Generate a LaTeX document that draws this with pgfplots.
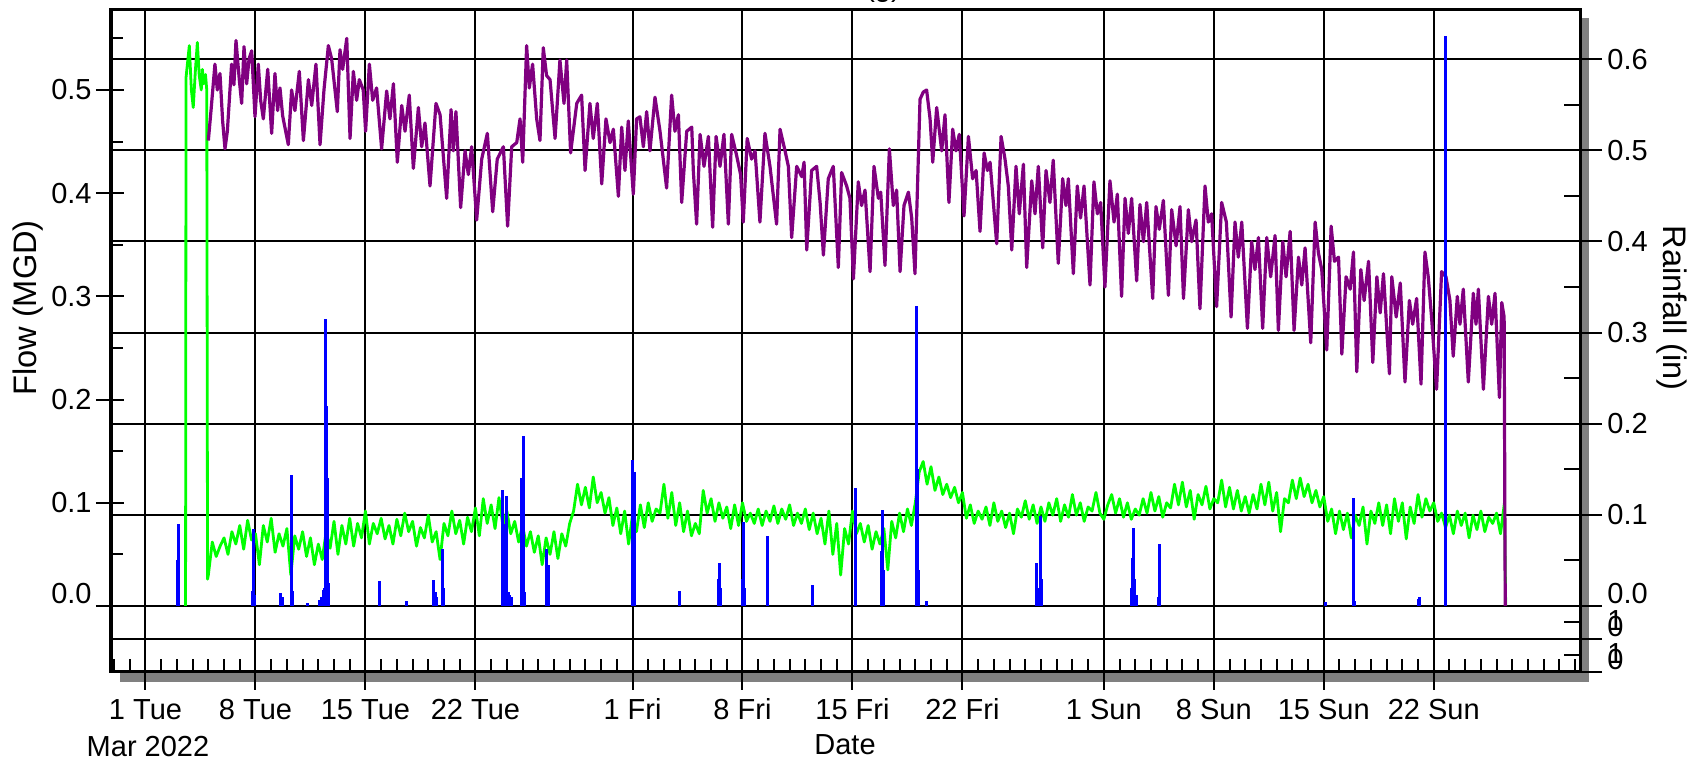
\documentclass[border=0pt]{standalone}
\usepackage{pgfplots}
\pgfplotsset{compat=1.18}
\usepackage{pgfplotstable}
\usepackage{fontspec}
\setmainfont{Liberation Sans}
\definecolor{fpurple}{RGB}{128,0,128}
\definecolor{fgreen}{RGB}{0,255,0}
\definecolor{fblue}{RGB}{0,0,255}
\definecolor{shadowgray}{RGB}{128,128,128}
\newcommand\ff{\fontsize{14.5}{17.4}\selectfont}
\newcommand\fl{\fontsize{16.3}{19.5}\selectfont}
\newcommand\onezero{\rlap{\raisebox{3pt}{1}}0}

\pgfplotstableread{
d v
4.00 0.451
4.17 0.480
4.42 0.525
4.57 0.500
4.74 0.516
4.91 0.470
5.06 0.443
5.21 0.460
5.48 0.525
5.63 0.505
5.76 0.548
5.97 0.510
6.12 0.487
6.27 0.542
6.44 0.506
6.59 0.530
6.76 0.538
6.97 0.474
7.18 0.525
7.33 0.490
7.50 0.472
7.78 0.520
8.03 0.458
8.24 0.516
8.41 0.480
8.56 0.502
8.73 0.475
9.09 0.447
9.30 0.500
9.51 0.480
9.79 0.518
10.05 0.451
10.37 0.510
10.58 0.485
10.85 0.525
11.11 0.447
11.36 0.500
11.64 0.543
11.85 0.530
12.21 0.479
12.38 0.539
12.55 0.520
12.81 0.550
13.02 0.453
13.23 0.518
13.44 0.490
13.61 0.510
13.86 0.500
14.01 0.460
14.25 0.525
14.46 0.490
14.71 0.502
15.03 0.443
15.35 0.499
15.56 0.472
15.78 0.506
16.03 0.430
16.31 0.485
16.52 0.460
16.79 0.495
17.05 0.424
17.37 0.483
17.58 0.445
17.79 0.468
18.11 0.407
18.49 0.487
18.75 0.476
19.17 0.395
19.45 0.481
19.59 0.441
19.76 0.479
20.06 0.386
20.34 0.441
20.55 0.418
20.76 0.445
21.08 0.374
21.40 0.433
21.76 0.458
22.10 0.382
22.39 0.433
22.78 0.445
23.05 0.368
23.31 0.445
23.63 0.449
23.84 0.472
24.01 0.430
24.26 0.543
24.43 0.502
24.64 0.525
24.90 0.472
25.11 0.451
25.32 0.541
25.53 0.514
25.75 0.510
26.07 0.453
26.38 0.529
26.64 0.487
26.81 0.529
27.06 0.439
27.45 0.487
27.76 0.495
27.98 0.422
28.29 0.487
28.50 0.453
28.76 0.487
29.04 0.409
29.31 0.472
29.57 0.449
29.78 0.462
30.10 0.397
30.31 0.464
30.52 0.422
30.73 0.470
31.05 0.399
31.26 0.472
31.47 0.474
31.69 0.445
31.90 0.479
32.11 0.441
32.43 0.493
32.75 0.460
33.17 0.405
33.49 0.495
33.70 0.460
33.92 0.476
34.13 0.391
34.45 0.460
34.77 0.464
34.87 0.422
35.08 0.370
35.30 0.457
35.55 0.426
35.83 0.455
36.10 0.367
36.32 0.455
36.57 0.426
36.82 0.457
37.10 0.370
37.31 0.457
37.62 0.437
37.88 0.418
38.05 0.372
38.30 0.453
38.58 0.433
38.80 0.441
39.11 0.372
39.43 0.458
39.75 0.426
40.17 0.370
40.39 0.462
40.71 0.441
40.92 0.426
41.13 0.357
41.45 0.426
41.77 0.416
41.92 0.430
42.09 0.345
42.40 0.422
42.72 0.426
42.94 0.391
43.15 0.340
43.46 0.414
43.78 0.426
44.10 0.328
44.31 0.420
44.63 0.407
44.84 0.395
45.06 0.317
45.37 0.411
45.58 0.388
45.80 0.403
46.12 0.324
46.37 0.426
46.65 0.395
46.80 0.401
47.07 0.330
47.35 0.443
47.60 0.388
47.81 0.403
48.03 0.324
48.28 0.388
48.56 0.401
48.77 0.376
48.98 0.322
49.30 0.491
49.51 0.498
49.72 0.500
49.94 0.472
50.11 0.430
50.36 0.483
50.68 0.441
50.89 0.476
51.14 0.391
51.38 0.462
51.59 0.441
51.80 0.457
52.10 0.378
52.38 0.455
52.65 0.414
52.87 0.422
53.12 0.363
53.38 0.439
53.59 0.422
53.76 0.430
54.18 0.351
54.46 0.455
54.71 0.433
54.92 0.407
55.14 0.345
55.41 0.426
55.62 0.380
55.88 0.428
56.09 0.328
56.41 0.412
56.62 0.380
56.83 0.426
57.11 0.347
57.32 0.422
57.57 0.391
57.78 0.432
58.10 0.332
58.38 0.414
58.59 0.388
58.74 0.414
59.06 0.322
59.31 0.407
59.52 0.376
59.74 0.407
60.12 0.311
60.37 0.411
60.59 0.380
60.80 0.391
61.07 0.309
61.39 0.412
61.65 0.372
61.86 0.399
62.13 0.300
62.35 0.395
62.56 0.361
62.77 0.395
63.09 0.315
63.30 0.389
63.52 0.353
63.73 0.391
64.11 0.298
64.32 0.387
64.53 0.365
64.79 0.393
65.11 0.301
65.32 0.384
65.60 0.349
65.85 0.387
66.07 0.298
66.38 0.384
66.59 0.353
66.87 0.374
67.12 0.288
67.44 0.407
67.65 0.372
67.86 0.380
68.18 0.290
68.50 0.391
68.80 0.372
69.10 0.280
69.35 0.372
69.56 0.338
69.78 0.372
70.14 0.269
70.41 0.353
70.62 0.326
70.84 0.357
71.11 0.269
71.37 0.357
71.62 0.319
71.90 0.359
72.11 0.267
72.39 0.353
72.60 0.319
72.86 0.363
73.11 0.267
73.39 0.338
73.60 0.311
73.81 0.347
74.17 0.255
74.45 0.372
74.66 0.342
74.87 0.326
75.19 0.248
75.47 0.368
75.68 0.334
75.94 0.338
76.15 0.244
76.42 0.319
76.68 0.307
76.89 0.343
77.10 0.227
77.36 0.326
77.57 0.296
77.85 0.334
78.12 0.236
78.38 0.319
78.59 0.284
78.80 0.322
79.18 0.225
79.33 0.319
79.61 0.280
79.87 0.313
80.17 0.217
80.45 0.296
80.66 0.273
80.91 0.298
81.19 0.215
81.44 0.343
81.65 0.319
81.86 0.280
82.18 0.210
82.50 0.324
82.78 0.319
83.03 0.296
83.24 0.242
83.50 0.300
83.67 0.273
83.88 0.307
84.20 0.217
84.52 0.303
84.69 0.273
84.84 0.307
85.16 0.210
85.48 0.300
85.69 0.273
85.90 0.303
86.18 0.202
86.33 0.294
86.48 0.280
86.55 0.000
}\purpletab

\pgfplotstableread{
d v
2.55 0.000
2.58 0.512
2.70 0.530
2.79 0.543
2.92 0.500
3.04 0.483
3.18 0.520
3.30 0.546
3.42 0.514
3.55 0.500
3.62 0.520
3.70 0.506
3.82 0.515
3.90 0.500
3.95 0.026
4.00 0.030
4.25 0.062
4.50 0.048
4.75 0.058
5.00 0.066
5.25 0.050
5.50 0.072
5.75 0.060
6.00 0.078
6.25 0.055
6.50 0.083
6.75 0.064
7.00 0.070
7.25 0.040
7.50 0.078
7.75 0.062
8.00 0.085
8.25 0.052
8.50 0.070
8.75 0.058
9.00 0.075
9.25 0.030
9.50 0.068
9.75 0.055
10.00 0.072
10.25 0.048
10.50 0.066
10.75 0.040
11.00 0.060
11.25 0.045
11.50 0.072
11.75 0.056
12.00 0.082
12.25 0.050
12.50 0.078
12.75 0.060
13.00 0.085
13.25 0.058
13.50 0.080
13.75 0.066
14.00 0.092
14.25 0.060
14.50 0.080
14.75 0.070
15.00 0.085
15.25 0.065
15.50 0.078
15.75 0.060
16.00 0.084
16.25 0.068
16.50 0.090
16.75 0.072
17.00 0.082
17.25 0.058
17.50 0.076
17.75 0.066
18.00 0.088
18.25 0.062
18.50 0.072
18.75 0.045
19.00 0.080
19.25 0.068
19.50 0.092
19.75 0.070
20.00 0.083
20.25 0.060
20.50 0.086
20.75 0.072
21.00 0.095
21.25 0.068
21.50 0.104
21.75 0.080
22.00 0.098
22.25 0.075
22.50 0.105
22.75 0.078
23.00 0.092
23.25 0.070
23.50 0.082
23.75 0.062
24.00 0.078
24.25 0.058
24.50 0.072
24.75 0.052
25.00 0.068
25.25 0.040
25.50 0.066
25.75 0.050
26.00 0.072
26.25 0.046
26.50 0.070
26.75 0.058
27.00 0.080
27.25 0.092
27.50 0.118
27.75 0.098
28.00 0.115
28.25 0.095
28.50 0.125
28.75 0.100
29.00 0.110
29.25 0.090
29.50 0.105
29.75 0.078
30.00 0.095
30.25 0.070
30.50 0.092
30.75 0.060
31.00 0.088
31.25 0.072
31.50 0.098
31.75 0.076
32.00 0.100
32.25 0.082
32.50 0.094
32.75 0.090
33.00 0.118
33.25 0.085
33.50 0.110
33.75 0.078
34.00 0.100
34.25 0.072
34.50 0.092
34.75 0.068
35.00 0.080
35.25 0.070
35.50 0.112
35.75 0.090
36.00 0.104
36.25 0.082
36.50 0.100
36.75 0.085
37.00 0.096
37.25 0.075
37.50 0.098
37.75 0.078
38.00 0.100
38.25 0.082
38.50 0.090
38.75 0.080
39.00 0.094
39.25 0.078
39.50 0.092
39.75 0.082
40.00 0.097
40.25 0.080
40.50 0.094
40.75 0.084
41.00 0.098
41.25 0.078
41.50 0.090
41.75 0.080
42.00 0.094
42.25 0.074
42.50 0.090
42.75 0.070
43.00 0.085
43.25 0.060
43.50 0.092
43.75 0.050
44.00 0.080
44.25 0.030
44.50 0.075
44.75 0.060
45.00 0.092
45.25 0.070
45.50 0.080
45.75 0.062
46.00 0.078
46.25 0.055
46.50 0.072
46.75 0.060
47.00 0.075
47.25 0.035
47.50 0.082
47.75 0.066
48.00 0.090
48.25 0.072
48.50 0.094
48.75 0.078
49.00 0.100
49.25 0.130
49.50 0.140
49.75 0.118
50.00 0.135
50.25 0.112
50.50 0.125
50.75 0.108
51.00 0.118
51.25 0.105
51.50 0.115
51.75 0.100
52.00 0.110
52.25 0.085
52.50 0.098
52.75 0.080
53.00 0.092
53.25 0.084
53.50 0.096
53.75 0.078
54.00 0.100
54.25 0.082
54.50 0.092
54.75 0.076
55.00 0.090
55.25 0.070
55.50 0.094
55.75 0.086
56.00 0.102
56.25 0.084
56.50 0.098
56.75 0.080
57.00 0.096
57.25 0.082
57.50 0.100
57.75 0.088
58.00 0.104
58.25 0.082
58.50 0.098
58.75 0.086
59.00 0.108
59.25 0.088
59.50 0.100
59.75 0.082
60.00 0.096
60.25 0.092
60.50 0.110
60.75 0.090
61.00 0.084
61.25 0.098
61.50 0.108
61.75 0.090
62.00 0.104
62.25 0.086
62.50 0.100
62.75 0.084
63.00 0.094
63.25 0.088
63.50 0.104
63.75 0.090
64.00 0.110
64.25 0.092
64.50 0.106
64.75 0.086
65.00 0.100
65.25 0.095
65.50 0.118
65.75 0.098
66.00 0.120
66.25 0.096
66.50 0.112
66.75 0.084
67.00 0.108
67.25 0.098
67.50 0.116
67.75 0.094
68.00 0.104
68.25 0.100
68.50 0.122
68.75 0.096
69.00 0.115
69.25 0.094
69.50 0.112
69.75 0.092
70.00 0.106
70.25 0.090
70.50 0.108
70.75 0.094
71.00 0.118
71.25 0.098
71.50 0.120
71.75 0.092
72.00 0.110
72.25 0.072
72.50 0.104
72.75 0.100
73.00 0.122
73.25 0.104
73.50 0.124
73.75 0.106
74.00 0.118
74.25 0.100
74.50 0.112
74.75 0.096
75.00 0.106
75.25 0.082
75.50 0.094
75.75 0.070
76.00 0.092
76.25 0.074
76.50 0.090
76.75 0.066
77.00 0.088
77.25 0.078
77.50 0.096
77.75 0.060
78.00 0.092
78.25 0.080
78.50 0.100
78.75 0.078
79.00 0.098
79.25 0.070
79.50 0.104
79.75 0.082
80.00 0.100
80.25 0.065
80.50 0.096
80.75 0.080
81.00 0.108
81.25 0.086
81.50 0.104
81.75 0.092
82.00 0.100
82.25 0.082
82.50 0.090
82.75 0.076
83.00 0.088
83.25 0.070
83.50 0.092
83.75 0.078
84.00 0.090
84.25 0.066
84.50 0.088
84.75 0.074
85.00 0.092
85.25 0.072
85.50 0.086
85.75 0.080
86.00 0.090
86.25 0.070
86.50 0.100
86.58 0.000
}\greentab

\pgfplotstableread{
d r
2.05 0.050
2.10 0.090
6.80 0.016
6.87 0.085
6.95 0.012
8.62 0.014
8.75 0.010
9.28 0.144
9.35 0.016
10.30 0.003
11.05 0.007
11.20 0.010
11.30 0.018
11.40 0.020
11.47 0.315
11.52 0.220
11.60 0.140
11.68 0.025
14.92 0.027
16.60 0.005
18.35 0.029
18.45 0.015
18.55 0.010
18.90 0.062
18.95 0.020
22.70 0.025
22.75 0.127
22.80 0.090
22.85 0.030
22.95 0.121
23.00 0.040
23.10 0.015
23.20 0.012
23.30 0.010
23.95 0.140
24.03 0.186
24.10 0.015
25.55 0.062
25.62 0.045
30.97 0.160
31.02 0.030
31.10 0.147
31.15 0.020
34.00 0.016
36.45 0.030
36.52 0.047
36.60 0.020
38.00 0.030
38.06 0.092
38.12 0.020
39.60 0.077
42.45 0.023
45.18 0.129
45.22 0.040
46.85 0.060
46.92 0.105
47.00 0.040
49.05 0.290
49.10 0.329
49.15 0.150
49.20 0.040
49.70 0.005
56.70 0.047
56.80 0.020
56.95 0.099
57.02 0.030
62.75 0.020
62.82 0.053
62.90 0.086
62.97 0.030
63.05 0.012
64.45 0.010
64.52 0.068
75.10 0.004
76.90 0.118
76.95 0.005
81.00 0.008
81.10 0.010
82.72 0.625
}\raintab

\begin{document}
\begin{tikzpicture}
\ff
\fill[shadowgray] (4.25pt,-5pt) rectangle (738.75pt,327pt);
\fill[white] (0pt,0pt) rectangle (734.5pt,331.25pt);
% rainfall scale: grid, right ticks
\begin{axis}[
  at={(0pt,0pt)}, anchor=south west,
  scale only axis, width=734.5pt, height=331.25pt,
  xmin=-2.196, xmax=91.31, ymin=-0.07243, ymax=0.6546,
  xtick=\empty,
  ytick={0.1,0.2,0.3,0.4,0.5,0.6},
  yticklabels={0.1,0.2,0.3,0.4,0.5,0.6},
  ytick pos=right,
  minor ytick={-0.05433,-0.01811,0.05,0.15,0.25,0.35,0.45,0.55},
  extra y ticks={0,-0.03622,-0.07243},
  extra y tick labels={0.0,\onezero,\onezero},
  extra y tick style={grid=major, yticklabel style={anchor=south west, yshift=1pt}},
  ymajorgrids,
  major grid style={black, line width=1pt},
  tick align=inside,
  major tick length=11pt, minor tick length=8pt,
  tick style={black, line width=1pt},
  major tick style={xshift=11pt},
  axis line style={black, line width=1.5pt},
  yticklabel style={anchor=west, inner sep=0pt, xshift=13.5pt, font=\ff},
]
\end{axis}
% flow scale
\begin{axis}[
  at={(0pt,0pt)}, anchor=south west,
  scale only axis, width=734.5pt, height=331.25pt,
  xmin=-2.196, xmax=91.31, ymin=-0.06395, ymax=0.5780,
  xtick={0,7,14,21,31,38,45,52,61,68,75,82},
  xticklabels={1 Tue,8 Tue,15 Tue,22 Tue,1 Fri,8 Fri,15 Fri,22 Fri,1 Sun,8 Sun,15 Sun,22 Sun},
  minor xtick={-2,-1,...,91},
  xtick pos=left, ytick pos=left,
  xmajorgrids,
  major grid style={black, line width=1pt},
  ytick={0.1,0.2,0.3,0.4,0.5},
  yticklabels={0.1,0.2,0.3,0.4,0.5},
  extra y ticks={0}, extra y tick labels={0.0},
  extra y tick style={yticklabel style={anchor=south east, yshift=1pt}},
  minor ytick={0.05,0.15,0.25,0.35,0.45,0.55},
  tick align=inside,
  major tick length=14pt, minor tick length=6.25pt,
  tick style={black, line width=1pt},
  major x tick style={yshift=-9pt},
  major y tick style={xshift=-7.5pt},
  axis line style={black, line width=1.5pt},
  yticklabel style={anchor=east, inner sep=0pt, xshift=-9.5pt, font=\ff},
  xticklabel style={anchor=base, inner sep=0pt, yshift=-24pt, font=\ff},
]
\addplot[fgreen, line width=1.4pt, line join=round] table[x=d, y=v] {\greentab};
\addplot[fpurple, line width=1.6pt, line join=round] table[x=d, y=v] {\purpletab};
\end{axis}
% rainfall bars
\begin{axis}[
  at={(0pt,0pt)}, anchor=south west,
  scale only axis, width=734.5pt, height=331.25pt,
  xmin=-2.196, xmax=91.31, ymin=-0.07243, ymax=0.6546,
  hide axis,
]
\addplot[ycomb, fblue, line width=1.5pt] table[x=d, y=r] {\raintab};
\end{axis}
\node[anchor=base] at (18.5pt,-42.3pt) {Mar 2022};
\node[anchor=base] at (367pt,-41.5pt) {Date};
\node[rotate=90, font=\fl] at (-41.5pt,182pt) {Flow (MGD)};
\node[rotate=-90, font=\fl] at (780.5pt,182pt) {Rainfall (in)};
\node[anchor=base] at (386pt,337.5pt) {(g)};
\pgfresetboundingbox
\useasboundingbox (-55.5pt,-45.5pt) rectangle (789.5pt,336pt);
\end{tikzpicture}
\end{document}
